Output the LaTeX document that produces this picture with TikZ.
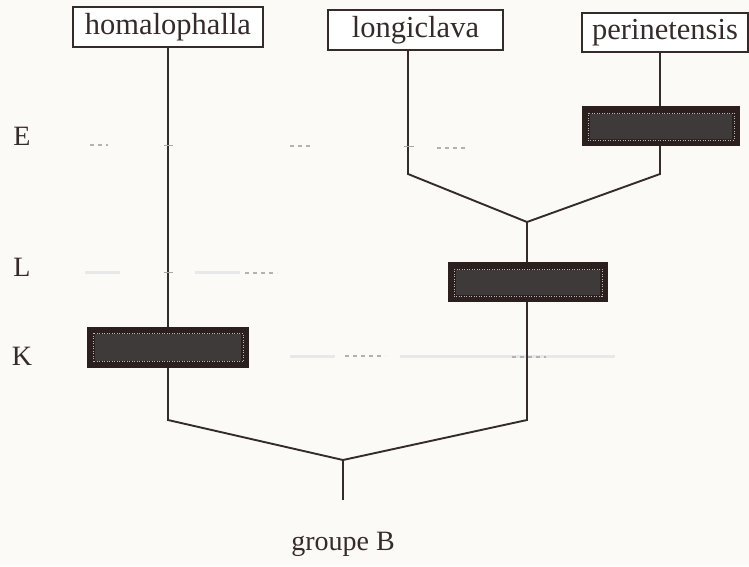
\documentclass[tikz,border=0pt]{standalone}
\usepackage{fontspec}
\setmainfont{Liberation Serif}
\definecolor{ink}{HTML}{352B2B}
\definecolor{paper}{HTML}{FCFAF7}
\definecolor{darkbox}{HTML}{2B201D}
\definecolor{innerbox}{HTML}{3F3A3A}
\begin{document}
\begin{tikzpicture}[x=1pt,y=-1pt,
  taxon/.style={draw=ink,line width=1.6pt,fill=white,inner sep=0pt,font=\fontsize{30.5}{35}\selectfont,text=ink},
  level/.style={font=\fontsize{28}{33}\selectfont,text=ink,inner sep=0pt},
  branch/.style={draw=ink,line width=1.9pt},
  darkstate/.style={fill=darkbox,draw=none,inner sep=0pt},
  faint/.style={draw=gray!18,line width=3pt},
  tick/.style={draw=gray!70,line width=1pt},
  dots/.style={draw=gray!60,line width=1.2pt,dash pattern=on 4pt off 4pt}]
\fill[paper] (0,0) rectangle (749,566);
\useasboundingbox (0,0) rectangle (749,566);

% faint level traces
\draw[faint] (85,272) -- (120,272);
\draw[faint] (195,272) -- (240,272);
\draw[faint] (290,356) -- (335,356);
\draw[faint] (400,356) -- (615,356);
\draw[dots] (90,145) -- (108,145);
\draw[dots] (290,146) -- (312,146);
\draw[dots] (437,148) -- (467,148);
\draw[dots] (245,273) -- (277,273);
\draw[dots] (345,356) -- (385,356);
\draw[dots] (512,357) -- (546,357);

% taxon labels
\node[taxon,minimum width=190pt,minimum height=40pt] (homa) at (168,27) {homalophalla};
\node[taxon,minimum width=175pt,minimum height=40pt] (longi) at (415.5,30) {longiclava};
\node[taxon,minimum width=166pt,minimum height=39pt] (peri) at (665,32.5) {perinetensis};

% level letters
\node[level] (E) at (22,136) {E};
\node[level] (L) at (22,267) {L};
\node[level] (K) at (22,356) {K};

% branch points
\coordinate (bLo) at (408,174);
\coordinate (bPe) at (660,174);
\coordinate (jU) at (527,222);
\coordinate (bL) at (168,420);
\coordinate (bR) at (527,420);
\coordinate (jB) at (343,460);
\coordinate (stem) at (343,500);

% branches
\draw[branch] (homa.south) -- (bL) -- (jB) -- (bR) -- (jU);
\draw[branch] (bLo |- longi.south) -- (bLo) -- (jU) -- (bPe) -- (bPe |- peri.south);
\draw[branch] (jB) -- (stem);

% small ticks on branches
\draw[tick] (164,145) -- (173,145);
\draw[tick] (404,146) -- (414,146);
\draw[tick] (164,272) -- (173,272);

% dark state boxes
\node[darkstate,minimum width=158pt,minimum height=40pt] (dE) at (661,126) {};
\node[darkstate,minimum width=160pt,minimum height=40pt] (dL) at (528,282) {};
\node[darkstate,minimum width=162pt,minimum height=41pt] (dK) at (168,347) {};
\foreach \b in {dE,dL,dK}{
  \fill[innerbox] ([shift={(8pt,-8pt)}]\b.north west) rectangle ([shift={(-8pt,7pt)}]\b.south east);
  \draw[gray!55,line width=0.6pt,dash pattern=on 1pt off 1.5pt] ([shift={(6pt,-7pt)}]\b.north west) rectangle ([shift={(-6pt,6pt)}]\b.south east);
}

% root label
\node[font=\fontsize{28}{33}\selectfont,text=ink,anchor=north,inner sep=0pt] (root) at (343,532) {groupe B};
\end{tikzpicture}
\end{document}
